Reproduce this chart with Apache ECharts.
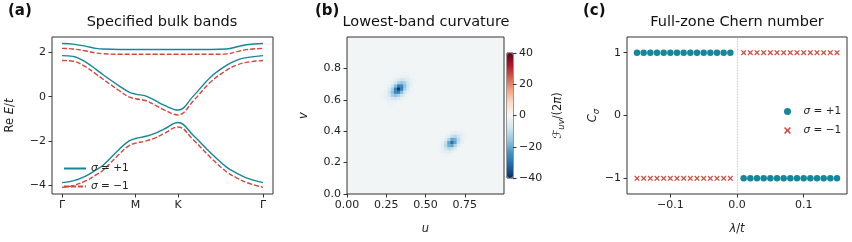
<!DOCTYPE html>
<html>
<head>
<meta charset="utf-8">
<script src="https://cdn.jsdelivr.net/npm/echarts@6/dist/echarts.min.js"></script>
<style>
html, body { margin: 0; padding: 0; background: #fff; }
#main { width: 852px; height: 242px; }
</style>
</head>
<body>
<div id="main"></div>
<script>
// (a) bands along Gamma-M-K-Gamma
var pathTicks = [0, 0.866, 1.366, 2.366];
var pathTickLabels = ['Γ', 'M', 'K', 'Γ'];
var pathPos = [0, 0.13, 0.285, 0.4, 0.48, 0.675, 0.79, 0.866, 0.99, 1.1, 1.2, 1.366, 1.55, 1.745, 1.94, 2.06, 2.17, 2.366];
var topPlus = [2.40, 2.37, 2.27, 2.18, 2.15, 2.13, 2.13, 2.13, 2.13, 2.13, 2.13, 2.13, 2.13, 2.13, 2.15, 2.25, 2.34, 2.40];
var midPlus = [1.85, 1.82, 1.55, 1.23, 1.0, 0.48, 0.21, 0.12, 0.03, -0.18, -0.38, -0.6, 0.05, 0.87, 1.42, 1.65, 1.76, 1.85];
var lowPlus = [-3.87, -3.79, -3.56, -3.3, -3.1, -2.36, -1.99, -1.88, -1.78, -1.64, -1.46, -1.16, -1.76, -2.51, -3.18, -3.45, -3.65, -3.87];
var topMinus = [2.18, 2.15, 2.06, 1.97, 1.94, 1.91, 1.91, 1.91, 1.91, 1.91, 1.91, 1.91, 1.91, 1.91, 1.93, 2.03, 2.12, 2.18];
var midMinus = [1.63, 1.60, 1.33, 1.02, 0.80, 0.27, -0.01, -0.09, -0.18, -0.39, -0.59, -0.82, -0.17, 0.65, 1.2, 1.43, 1.55, 1.63];
var lowMinus = [-4.08, -4.0, -3.78, -3.52, -3.32, -2.58, -2.2, -2.09, -1.99, -1.85, -1.66, -1.36, -1.96, -2.72, -3.39, -3.66, -3.86, -4.08];

// (b) curvature on 50x50 cells of 0.02; cells not listed sit at the ~ -1 background
var cellCount = 50;
var blob1Origin = [11, 28]; // u index, v index of bottom-left cell
var blob1Rows = [ // bottom row first
    [-1, -1, -2, -2, -1, -1, -1, -1, -1, -1, -1],
    [-1, -2, -3, -3, -3, -2, -2, -1, -1, -1, -1],
    [-2, -3, -5, -7, -8, -6, -3, -2, -1, -1, -1],
    [-2, -3, -7, -13, -16, -13, -8, -4, -2, -1, -1],
    [-1, -3, -8, -16, -26, -27, -17, -8, -3, -2, -1],
    [-1, -2, -6, -13, -27, -38, -27, -13, -6, -2, -1],
    [-1, -2, -3, -8, -17, -27, -26, -16, -8, -3, -1],
    [-1, -1, -2, -4, -8, -13, -16, -13, -7, -3, -2],
    [-1, -1, -1, -2, -3, -6, -8, -7, -5, -3, -2],
    [-1, -1, -1, -1, -2, -2, -3, -3, -3, -2, -1],
    [-1, -1, -1, -1, -1, -1, -1, -2, -2, -1, -1]
];
var blob2Origin = [29, 12];
var blob2Rows = [
    [-1, -2, -2, -2, -1, -1, -1, -1, -1],
    [-2, -3, -4, -5, -4, -2, -1, -1, -1],
    [-2, -4, -8, -11, -9, -5, -2, -1, -1],
    [-2, -5, -11, -19, -21, -12, -5, -2, -1],
    [-1, -4, -9, -21, -30, -21, -9, -4, -1],
    [-1, -2, -5, -12, -21, -19, -11, -5, -2],
    [-1, -1, -2, -5, -9, -11, -8, -4, -2],
    [-1, -1, -1, -2, -4, -5, -4, -3, -2],
    [-1, -1, -1, -1, -1, -2, -2, -2, -1]
];
var uTicks = [0, 0.25, 0.5, 0.75];
var vTicks = [0, 0.2, 0.4, 0.6, 0.8];
var cbarTicks = [-40, -20, 0, 20, 40];
var cbarColors = ['#053061', '#2166ac', '#4393c3', '#92c5de', '#d1e5f0', '#f7f7f7', '#fddbc7', '#f4a582', '#d6604d', '#b2182b', '#67001f'];

// (c) Chern numbers
var lambdaVals = [-0.15, -0.14, -0.13, -0.12, -0.11, -0.10, -0.09, -0.08, -0.07, -0.06, -0.05, -0.04, -0.03, -0.02, -0.01,
    0.01, 0.02, 0.03, 0.04, 0.05, 0.06, 0.07, 0.08, 0.09, 0.10, 0.11, 0.12, 0.13, 0.14, 0.15];
var chernPlus = [1, 1, 1, 1, 1, 1, 1, 1, 1, 1, 1, 1, 1, 1, 1, -1, -1, -1, -1, -1, -1, -1, -1, -1, -1, -1, -1, -1, -1, -1];
var chernMinus = [-1, -1, -1, -1, -1, -1, -1, -1, -1, -1, -1, -1, -1, -1, -1, 1, 1, 1, 1, 1, 1, 1, 1, 1, 1, 1, 1, 1, 1, 1];

var teal = '#14879a';
var red = '#d2483e';
var frame = '#333';
var font = 'DejaVu Sans';
var crossPath = 'path://M0,1.6L1.6,0L5,3.4L8.4,0L10,1.6L6.6,5L10,8.4L8.4,10L5,6.6L1.6,10L0,8.4L3.4,5Z';

function pairs(xs, ys) {
    return xs.map(function (x, i) { return [x, ys[i]]; });
}
function cells(origin, rows) {
    var out = [];
    rows.forEach(function (row, r) {
        row.forEach(function (v, c) {
            if (v < -1) out.push([origin[0] + c, origin[1] + r, v]);
        });
    });
    return out;
}
function minus(s) { return String(s).replace('-', '\u2212'); }

var idx = [];
for (var i = 0; i < cellCount; i++) idx.push(i);

var tickStyle = { show: true, inside: false, length: 3.5, lineStyle: { color: frame, width: 1 } };
var labelStyle = { color: '#222', fontSize: 11, fontFamily: font };
var nameStyle = { color: '#222', fontSize: 11.5, fontFamily: font, rich: {
    i: { fontStyle: 'italic', fontSize: 11.5, fontFamily: font, color: '#222' },
    sub: { fontStyle: 'italic', fontSize: 8.5, fontFamily: font, color: '#222', verticalAlign: 'bottom', padding: [6, 0, 0, 0] }
} };

function valueAxis(grid, min, max, ticks, fmt, extra) {
    var ax = {
        type: 'value', gridIndex: grid, min: min, max: max,
        axisLine: { show: false, onZero: false }, splitLine: { show: false },
        axisTick: Object.assign({ customValues: ticks }, tickStyle),
        axisLabel: Object.assign({ customValues: ticks, margin: 6, formatter: fmt }, labelStyle)
    };
    return Object.assign(ax, extra || {});
}

var legendText = { fontSize: 10.5, color: '#222', fontFamily: font, rich: { i: { fontStyle: 'italic', fontSize: 10.5, fontFamily: font } } };

var myChart = echarts.init(document.getElementById('main'), null, { renderer: 'canvas' });
var option = {
    animation: false,
    backgroundColor: '#fff',
    textStyle: { fontFamily: font },
    graphic: [
        { type: 'text', x: 8, y: 4, style: { text: '(a)', font: 'bold 15px "DejaVu Sans"', fill: '#111' } },
        { type: 'text', x: 162, y: 22, style: { text: 'Specified bulk bands', font: '14.5px "DejaVu Sans"', fill: '#111', align: 'center', verticalAlign: 'middle' } },
        { type: 'text', x: 315, y: 4, style: { text: '(b)', font: 'bold 15px "DejaVu Sans"', fill: '#111' } },
        { type: 'text', x: 426, y: 22, style: { text: 'Lowest-band curvature', font: '14.5px "DejaVu Sans"', fill: '#111', align: 'center', verticalAlign: 'middle' } },
        { type: 'text', x: 583, y: 4, style: { text: '(c)', font: 'bold 15px "DejaVu Sans"', fill: '#111' } },
        { type: 'text', x: 737, y: 22, style: { text: 'Full-zone Chern number', font: '14.5px "DejaVu Sans"', fill: '#111', align: 'center', verticalAlign: 'middle' } }
    ],
    grid: [
        { left: 52, top: 37, width: 221, height: 157, show: true, borderColor: frame, borderWidth: 1, backgroundColor: 'transparent' },
        { left: 347, top: 37, width: 157, height: 157, show: true, borderColor: frame, borderWidth: 1, backgroundColor: '#f2f5f6' },
        { left: 507, top: 53, width: 6, height: 125, show: true, borderColor: frame, borderWidth: 1, backgroundColor: 'transparent' },
        { left: 627, top: 37, width: 220, height: 157, show: true, borderColor: frame, borderWidth: 1, backgroundColor: 'transparent' }
    ],
    xAxis: [
        valueAxis(0, -0.118, 2.484, pathTicks, function (v) {
            return pathTickLabels[pathTicks.indexOf(v)] || '';
        }),
        { type: 'category', gridIndex: 1, data: idx, show: false, position: 'top' },
        valueAxis(1, 0, 1, uTicks, function (v) { return v.toFixed(2); }, {
            name: '{i|u}', nameLocation: 'middle', nameGap: 29, nameTextStyle: nameStyle
        }),
        { type: 'value', gridIndex: 2, min: 0, max: 1, show: false },
        valueAxis(3, -0.165, 0.165, [-0.1, 0, 0.1], function (v) { return minus(v.toFixed(1)); }, {
            name: '{i|λ}/{i|t}', nameLocation: 'middle', nameGap: 29, nameTextStyle: nameStyle
        })
    ],
    yAxis: [
        valueAxis(0, -4.38, 2.69, [-4, -2, 0, 2], function (v) { return minus(v); }, {
            name: 'Re {i|E}/{i|t}', nameLocation: 'middle', nameRotate: 90, nameGap: 36, nameTextStyle: nameStyle
        }),
        { type: 'category', gridIndex: 1, data: idx, show: false, position: 'right' },
        valueAxis(1, 0, 1, vTicks, function (v) { return v.toFixed(1); }, {
            name: '{i|v}', nameLocation: 'middle', nameRotate: 90, nameGap: 37, nameTextStyle: nameStyle
        }),
        valueAxis(2, -40, 40, cbarTicks, function (v) { return minus(v); }, {
            position: 'right',
            name: 'ℱ{sub|uv}/(2{i|π})', nameLocation: 'middle', nameRotate: 90, nameGap: 38, nameTextStyle: nameStyle
        }),
        valueAxis(3, -1.25, 1.25, [-1, 0, 1], function (v) { return minus(v); }, {
            name: '{i|C}{sub|σ}', nameLocation: 'middle', nameRotate: 90, nameGap: 14, nameTextStyle: nameStyle
        })
    ],
    visualMap: {
        type: 'continuous', seriesIndex: 6, min: -40, max: 40, calculable: false,
        orient: 'vertical', left: 507, top: 53, itemWidth: 6, itemHeight: 125, padding: 0,
        inRange: { color: cbarColors }
    },
    legend: [
        {
            data: ['ap', 'am'], orient: 'vertical', left: 58, top: 158, itemWidth: 22, itemHeight: 8, itemGap: 7,
            itemStyle: { opacity: 0 },
            formatter: function (n) { return n === 'ap' ? '{i|σ} = +1' : '{i|σ} = \u22121'; },
            textStyle: legendText
        },
        {
            data: ['cp', 'cm'], orient: 'vertical', left: 779, top: 101, itemWidth: 14, itemHeight: 7, itemGap: 8,
            formatter: function (n) { return n === 'cp' ? '{i|σ} = +1' : '{i|σ} = \u22121'; },
            textStyle: Object.assign({ padding: [0, 0, 0, 4] }, legendText)
        }
    ],
    series: [
        { name: 'am', type: 'line', xAxisIndex: 0, yAxisIndex: 0, data: pairs(pathPos, topMinus), symbol: 'none', smooth: 0.4, lineStyle: { color: red, width: 1.4, type: [5, 2] }, itemStyle: { color: red } },
        { name: 'am', type: 'line', xAxisIndex: 0, yAxisIndex: 0, data: pairs(pathPos, midMinus), symbol: 'none', smooth: 0.4, lineStyle: { color: red, width: 1.4, type: [5, 2] }, itemStyle: { color: red } },
        { name: 'am', type: 'line', xAxisIndex: 0, yAxisIndex: 0, data: pairs(pathPos, lowMinus), symbol: 'none', smooth: 0.4, lineStyle: { color: red, width: 1.4, type: [5, 2] }, itemStyle: { color: red } },
        { name: 'ap', type: 'line', xAxisIndex: 0, yAxisIndex: 0, data: pairs(pathPos, topPlus), symbol: 'none', smooth: 0.4, lineStyle: { color: teal, width: 1.4 }, itemStyle: { color: teal } },
        { name: 'ap', type: 'line', xAxisIndex: 0, yAxisIndex: 0, data: pairs(pathPos, midPlus), symbol: 'none', smooth: 0.4, lineStyle: { color: teal, width: 1.4 }, itemStyle: { color: teal } },
        { name: 'ap', type: 'line', xAxisIndex: 0, yAxisIndex: 0, data: pairs(pathPos, lowPlus), symbol: 'none', smooth: 0.4, lineStyle: { color: teal, width: 1.4 }, itemStyle: { color: teal } },
        { name: 'curv', type: 'heatmap', xAxisIndex: 1, yAxisIndex: 1, data: cells(blob1Origin, blob1Rows).concat(cells(blob2Origin, blob2Rows)) },
        {
            name: 'cp', type: 'scatter', xAxisIndex: 4, yAxisIndex: 4, data: pairs(lambdaVals, chernPlus),
            symbol: 'circle', symbolSize: 6.5, itemStyle: { color: teal, opacity: 1 },
            markLine: { silent: true, symbol: ['none', 'none'], label: { show: false }, data: [{ xAxis: 0 }],
                lineStyle: { color: '#b5b5b5', width: 0.8, type: 'dotted' } }
        },
        {
            name: 'cm', type: 'scatter', xAxisIndex: 4, yAxisIndex: 4, data: pairs(lambdaVals, chernMinus),
            symbol: crossPath, symbolSize: 5.5,
            itemStyle: { color: red, opacity: 1 }
        }
    ]
};
myChart.setOption(option);
</script>
</body>
</html>
